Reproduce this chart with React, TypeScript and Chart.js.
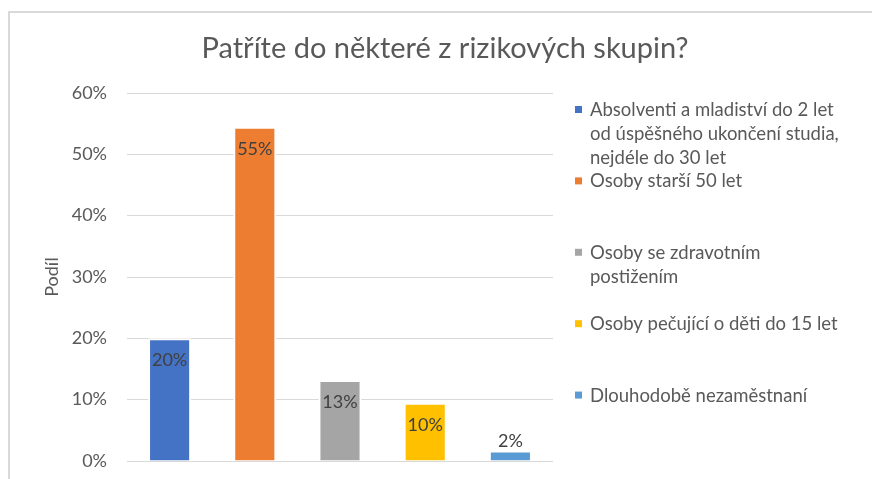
import React, { useEffect, useRef } from "react";
import { Chart, registerables } from "chart.js";

Chart.register(...registerables);

const TITLE = "Patříte do některé z rizikových skupin?";
const AXIS_TITLE = "Podíl";
const legendLines: string[][] = [
  ["Absolventi a mladiství do 2 let", "od úspěšného ukončení studia,", "nejdéle do 30 let"],
  ["Osoby starší 50 let"],
  ["Osoby se zdravotním", "postižením"],
  ["Osoby pečující o děti do 15 let"],
  ["Dlouhodobě nezaměstnaní"],
];
const categories = legendLines.map((l) => l.join(" "));
const values = [0.2, 0.545, 0.132, 0.095, 0.017];
const colors = ["#4472C4", "#ED7D31", "#A5A5A5", "#FFC000", "#5B9BD5"];
const yTicks = [0, 0.1, 0.2, 0.3, 0.4, 0.5, 0.6];

const FONT = "Lato";
const TEXT = "#595959";

const fmt = (v: number) => Math.round(v * 100) + "%";

const decorPlugin = {
  id: "decor",
  beforeDraw(chart: any) {
    const ctx = chart.ctx;
    ctx.save();
    ctx.fillStyle = "#ffffff";
    ctx.fillRect(0, 0, chart.width, chart.height);
    ctx.fillStyle = "#d9d9d9";
    ctx.fillRect(8, 11, chart.width - 8, 2);
    ctx.fillRect(8, 11, 2, chart.height - 11);
    ctx.restore();
  },
  afterDraw(chart: any) {
    const ctx = chart.ctx;
    const area = chart.chartArea;
    ctx.save();
    // title
    ctx.fillStyle = TEXT;
    ctx.font = `29px ${FONT}`;
    ctx.textAlign = "center";
    ctx.textBaseline = "middle";
    ctx.fillText(TITLE, chart.width / 2 + 9, 49);
    // legend
    ctx.font = `18.5px ${FONT}`;
    ctx.textAlign = "left";
    const lx = area.right + 22;
    const step = area.height * 0.194;
    legendLines.forEach((lines, i) => {
      const y0 = area.top + 17 + i * step;
      ctx.fillStyle = colors[i];
      ctx.fillRect(lx, y0 - 4, 7, 7);
      ctx.fillStyle = TEXT;
      lines.forEach((t, j) => ctx.fillText(t, lx + 15, y0 + j * 24));
    });
    ctx.restore();
  },
  afterDatasetsDraw(chart: any) {
    const ctx = chart.ctx;
    const meta = chart.getDatasetMeta(0);
    ctx.save();
    ctx.fillStyle = "#404040";
    ctx.font = `18px ${FONT}`;
    ctx.textAlign = "center";
    ctx.textBaseline = "middle";
    meta.data.forEach((bar: any, i: number) => {
      const h = bar.base - bar.y;
      const y = h > 34 ? bar.y + 22 : bar.y - 9;
      ctx.fillText(fmt(values[i]), bar.x, y);
    });
    ctx.restore();
  },
};

export default function App() {
  const ref = useRef<HTMLCanvasElement>(null);
  useEffect(() => {
    document.body.style.margin = "0";
    const chart = new Chart(ref.current!, {
      type: "bar",
      data: {
        labels: categories,
        datasets: [
          {
            data: values,
            backgroundColor: colors,
            borderColor: "#ffffff",
            borderWidth: 2,
            barPercentage: 0.506,
            categoryPercentage: 1,
          },
        ],
      },
      options: {
        responsive: false,
        animation: false,
        layout: { padding: { top: 93, right: 319, bottom: 18, left: 0 } },
        plugins: {
          legend: { display: false },
          title: { display: false },
          tooltip: { enabled: false },
        },
        scales: {
          x: { display: false },
          y: {
            min: 0,
            max: 0.6,
            afterFit: (s: any) => {
              s.width = 127;
              s.paddingTop = 0;
              s.paddingBottom = 0;
            },
            afterBuildTicks: (s: any) => {
              s.ticks = yTicks.map((v) => ({ value: v }));
            },
            ticks: {
              padding: 20,
              color: TEXT,
              font: { family: FONT, size: 18 },
              callback: (v: any) => fmt(Number(v)),
            },
            grid: { color: "#d9d9d9", lineWidth: 1, drawTicks: false },
            border: { display: false },
            title: {
              display: true,
              text: AXIS_TITLE,
              color: TEXT,
              font: { family: FONT, size: 18 },
              padding: { top: 41, bottom: 0 },
            },
          },
        },
      },
      plugins: [decorPlugin],
    });
    return () => chart.destroy();
  }, []);
  return (
    <div style={{ width: 872, height: 479 }}>
      <canvas ref={ref} width={872} height={479} />
    </div>
  );
}
